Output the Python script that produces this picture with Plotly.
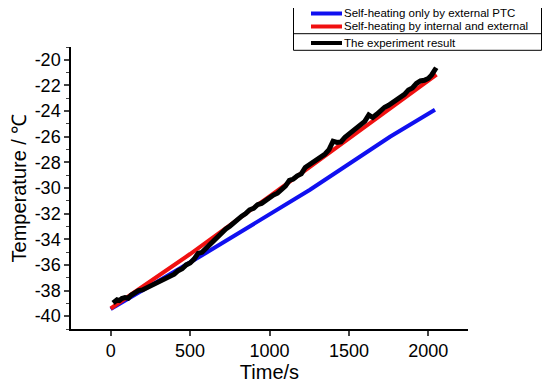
import plotly.graph_objects as go

# ---- data ----
blue_t = [0, 562, 1255, 1759, 2042]
blue_T = [-39.45, -35.35, -30.14, -26.0, -23.9]

red_t = [0, 500, 1000, 1500, 2052]
red_T = [-39.4, -35.15, -30.65, -26.15, -21.15]

exp_t = [15, 25, 40, 55, 70, 90, 110, 130, 150, 175, 200, 225, 250, 275, 300, 325, 350, 375,
         400, 425, 450, 475, 500, 525, 550, 575, 600, 625, 650, 675, 700, 725, 750, 775, 800,
         825, 850, 875, 900, 925, 950, 975, 1000, 1025, 1050, 1075, 1100, 1125, 1150, 1175,
         1200, 1225, 1250, 1275, 1300, 1325, 1350, 1375, 1400, 1425, 1450, 1475, 1500, 1525,
         1550, 1575, 1600, 1625, 1650, 1675, 1700, 1725, 1750, 1775, 1800, 1825, 1850, 1875,
         1900, 1925, 1950, 1975, 2000, 2020, 2035, 2050]
exp_T = [-38.97, -38.85, -38.72, -38.78, -38.62, -38.55, -38.6, -38.35, -38.2, -38.0, -37.95,
         -37.8, -37.62, -37.45, -37.35, -37.12, -37.02, -36.85, -36.72, -36.45, -36.3, -36.0,
         -35.85, -35.55, -35.1, -35.02, -34.72, -34.38, -34.05, -33.72, -33.55, -33.2, -32.98,
         -32.7, -32.52, -32.2, -32.0, -31.7, -31.58, -31.3, -31.2, -30.95, -30.8, -30.55, -30.4,
         -30.18, -29.85, -29.4, -29.3, -29.05, -28.9, -28.4, -28.2, -27.95, -27.75, -27.5,
         -27.35, -27.0, -26.35, -26.45, -26.4, -26.05, -25.8, -25.6, -25.3, -25.15, -24.8,
         -24.3, -24.5, -24.25, -23.95, -23.7, -23.55, -23.35, -23.1, -22.85, -22.7, -22.35,
         -22.2, -21.85, -21.65, -21.6, -21.45, -21.2, -20.85, -20.62]

series_names = ["Self-heating only by external PTC",
                "Self-heating by internal and external",
                "The experiment result"]
series_colors = ["#1010f0", "#f01010", "#000000"]

x_ticks = [0, 500, 1000, 1500, 2000]
y_ticks = [-40, -38, -36, -34, -32, -30, -28, -26, -24, -22, -20]
y_ticklabels = ["-40", "-38", "-36", "-34", "-32", "-30", "-28", "-26", "-24", "-22", "-20"]

FONT = "Liberation Sans, Arial, sans-serif"

fig = go.Figure()
for (xs, ys), name, col, w in zip([(blue_t, blue_T), (red_t, red_T), (exp_t, exp_T)],
                                  series_names, series_colors, [4, 4, 5]):
    fig.add_trace(go.Scatter(x=xs, y=ys, mode="lines", name=name,
                             line=dict(color=col, width=w), showlegend=False))

# page body has an 8px margin; plot area in page pixels, converted to figure pixels
OFF = 8
L, R, T, B = 71 - OFF, 468 - OFF, 47 - OFF, 329 - OFF
W, H = 550, 384


def px(x):
    return (x - OFF - L) / (R - L)


def py(y):
    return (B - (y - OFF)) / (B - T)


# manual legend box (page pixel coordinates)
shapes = [
    dict(type="rect", xref="paper", yref="paper", x0=px(293.5), x1=px(541.5), y0=py(50.3), y1=py(3),
         line=dict(color="black", width=1), fillcolor="white", layer="above"),
    dict(type="line", xref="paper", yref="paper", x0=px(293.5), x1=px(541.5), y0=py(33.7), y1=py(33.7),
         line=dict(color="black", width=1), layer="above"),
]
rows = [13.5, 26.5, 43]
annotations = []
for name, col, ry in zip(series_names, series_colors, rows):
    shapes.append(dict(type="line", xref="paper", yref="paper", x0=px(311), x1=px(342),
                       y0=py(ry), y1=py(ry), line=dict(color=col, width=4), layer="above"))
    annotations.append(dict(xref="paper", yref="paper", x=px(341.5), y=py(ry), text=name,
                            showarrow=False, xanchor="left", yanchor="middle",
                            font=dict(family=FONT, size=11.5, color="black")))

fig.update_layout(
    width=W, height=H,
    margin=dict(l=L, r=W - R, t=T, b=H - B),
    paper_bgcolor="white", plot_bgcolor="white",
    font=dict(family=FONT, color="black"),
    shapes=shapes, annotations=annotations,
    xaxis=dict(range=[-250, 2250], tickvals=x_ticks, ticks="outside", ticklen=5, tickwidth=1.5,
               showline=True, linecolor="black", linewidth=1.5, showgrid=False, zeroline=False,
               automargin=False,
               tickfont=dict(size=18, family=FONT),
               title=dict(text="Time/s", font=dict(size=20, family=FONT), standoff=2)),
    yaxis=dict(range=[-41, -19], tickvals=y_ticks, ticktext=y_ticklabels, ticks="outside",
               ticklen=5, tickwidth=1.5, showline=True, linecolor="black", linewidth=1.5,
               showgrid=False, zeroline=False, automargin=False,
               tickfont=dict(size=18, family=FONT),
               minor=dict(dtick=1, tick0=-41, ticks="outside", ticklen=3, tickwidth=1, showgrid=False),
               title=dict(text="Temperature / ℃", font=dict(size=20, family=FONT), standoff=8)),
)

fig.write_html("out.html")
